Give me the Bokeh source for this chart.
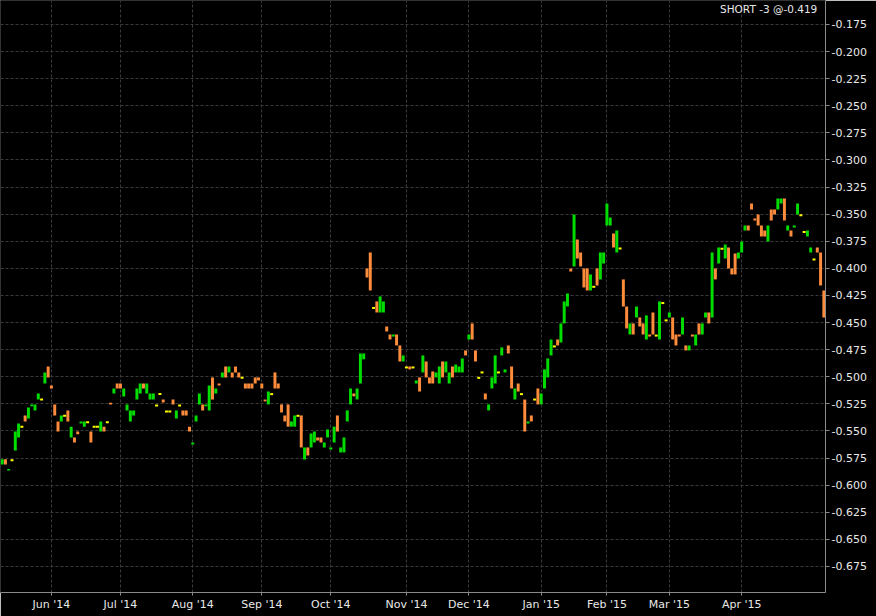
from bokeh.plotting import figure
from bokeh.models import ColumnDataSource, Range1d, FixedTicker, Label
from bokeh.embed import file_html
from bokeh.resources import INLINE

# ---- data (one bar per trading day) ----
opens = [
    -0.581, -0.576, -0.5865, -0.577, -0.568, -0.556, -0.546, -0.5357, -0.5385, -0.5273,
    -0.531, -0.5209, -0.521, -0.5062, -0.4905, -0.508, -0.5255, -0.5412, -0.5412, -0.536,
    -0.531, -0.556, -0.556, -0.5505, -0.543, -0.546, -0.542, -0.5505, -0.546, -0.546,
    -0.5505, -0.546, -0.542, -0.524, -0.5154, -0.5062, -0.5062, -0.5182, -0.531, -0.5412,
    -0.5357, -0.5209, -0.5154, -0.5062, -0.5154, -0.5209, -0.5209, -0.5264, -0.516, -0.521,
    -0.532, -0.532, -0.521, -0.5385, -0.5264, -0.531, -0.531, -0.546, -0.5625, -0.5412,
    -0.5255, -0.5255, -0.5273, -0.531, -0.5006, -0.5154, -0.5062, -0.5006, -0.4905, -0.496,
    -0.496, -0.4905, -0.496, -0.501, -0.5062, -0.5062, -0.5062, -0.5006, -0.5006, -0.5062,
    -0.521, -0.5255, -0.516, -0.496, -0.5062, -0.5255, -0.5357, -0.5255, -0.546, -0.546,
    -0.536, -0.5357, -0.5763, -0.5652, -0.5652, -0.5606, -0.556, -0.556, -0.5652, -0.556,
    -0.5671, -0.5606, -0.5357, -0.5698, -0.5698, -0.5412, -0.5255, -0.5154, -0.5209, -0.5062,
    -0.4839, -0.4001, -0.3853, -0.4365, -0.4305, -0.4407, -0.4407, -0.4536, -0.461, -0.4629,
    -0.461, -0.4711, -0.4859, -0.4914, -0.4905, -0.4914, -0.5062, -0.5006, -0.496, -0.4859,
    -0.5006, -0.4951, -0.5006, -0.5062, -0.4859, -0.496, -0.5062, -0.4905, -0.496, -0.496,
    -0.496, -0.4757, -0.4656, -0.4508, -0.4757, -0.501, -0.496, -0.5154, -0.531, -0.5108,
    -0.5062, -0.496, -0.4803, -0.496, -0.4711, -0.4905, -0.5209, -0.5062, -0.516, -0.521,
    -0.5431, -0.5357, -0.521, -0.5108, -0.5255, -0.5108, -0.5006, -0.4803, -0.472, -0.4656,
    -0.4684, -0.4508, -0.4351, -0.4001, -0.3982, -0.3733, -0.3853, -0.4001, -0.4001, -0.4204,
    -0.417, -0.4001, -0.4102, -0.3955, -0.3604, -0.3604, -0.3678, -0.3853, -0.3816, -0.4102,
    -0.4352, -0.461, -0.4508, -0.4453, -0.4453, -0.4508, -0.4656, -0.461, -0.4407, -0.462,
    -0.4656, -0.432, -0.448, -0.4453, -0.4453, -0.461, -0.461, -0.461, -0.4711, -0.4757,
    -0.461, -0.4711, -0.4508, -0.461, -0.4453, -0.4407, -0.4453, -0.4001, -0.3955, -0.382,
    -0.3909, -0.3807, -0.4001, -0.3863, -0.3909, -0.3853, -0.365, -0.3604, -0.3401, -0.354,
    -0.3503, -0.3604, -0.365, -0.3752, -0.3457, -0.3457, -0.3457, -0.3401, -0.3355, -0.365,
    -0.365, -0.3623, -0.3503, -0.351, -0.3664, -0.3706, -0.3853, -0.3918, -0.3807, -0.3853,
    -0.4204,
]
closes = [
    -0.576, -0.581, -0.585, -0.577, -0.5505, -0.543, -0.546, -0.5412, -0.5283, -0.5255,
    -0.5255, -0.5154, -0.521, -0.496, -0.5006, -0.5108, -0.5357, -0.5505, -0.5357, -0.536,
    -0.5412, -0.546, -0.5606, -0.553, -0.5412, -0.5412, -0.542, -0.5606, -0.546, -0.546,
    -0.5412, -0.5505, -0.542, -0.5255, -0.5108, -0.5108, -0.5108, -0.5108, -0.5255, -0.531,
    -0.531, -0.5108, -0.5062, -0.5108, -0.5062, -0.5154, -0.5154, -0.5264, -0.516, -0.5237,
    -0.532, -0.532, -0.5255, -0.531, -0.5264, -0.5357, -0.5357, -0.5505, -0.5606, -0.5357,
    -0.5154, -0.531, -0.5255, -0.508, -0.5209, -0.5108, -0.508, -0.496, -0.5006, -0.4905,
    -0.5006, -0.496, -0.5006, -0.501, -0.5108, -0.5108, -0.5108, -0.5062, -0.5034, -0.5108,
    -0.5227, -0.5136, -0.516, -0.5108, -0.5108, -0.5329, -0.5412, -0.546, -0.5412, -0.5357,
    -0.536, -0.5652, -0.5652, -0.5726, -0.5523, -0.5505, -0.5588, -0.5606, -0.5606, -0.5486,
    -0.5652, -0.546, -0.5505, -0.5652, -0.556, -0.531, -0.5108, -0.518, -0.5108, -0.4785,
    -0.4785, -0.4084, -0.4204, -0.4365, -0.4407, -0.4259, -0.4305, -0.4582, -0.4656, -0.461,
    -0.4711, -0.4859, -0.4803, -0.4914, -0.4932, -0.4914, -0.5034, -0.5136, -0.4803, -0.5006,
    -0.5062, -0.5062, -0.496, -0.4905, -0.5006, -0.4859, -0.496, -0.5006, -0.4887, -0.4905,
    -0.4831, -0.4803, -0.461, -0.4656, -0.4859, -0.501, -0.496, -0.5209, -0.5255, -0.5006,
    -0.4803, -0.496, -0.4729, -0.4932, -0.4785, -0.5108, -0.5108, -0.5136, -0.516, -0.5505,
    -0.5412, -0.5412, -0.521, -0.5255, -0.5154, -0.4932, -0.4831, -0.4656, -0.472, -0.4711,
    -0.4508, -0.4305, -0.4232, -0.4029, -0.3503, -0.3909, -0.3982, -0.4176, -0.4204, -0.4056,
    -0.417, -0.4158, -0.3853, -0.3853, -0.3401, -0.353, -0.3807, -0.365, -0.3816, -0.4352,
    -0.4554, -0.4508, -0.461, -0.4352, -0.4536, -0.461, -0.4434, -0.4629, -0.461, -0.462,
    -0.4305, -0.432, -0.448, -0.4407, -0.4656, -0.4711, -0.4629, -0.4453, -0.4757, -0.4711,
    -0.4629, -0.461, -0.461, -0.4508, -0.4407, -0.4508, -0.3853, -0.4102, -0.3807, -0.382,
    -0.3779, -0.4001, -0.4056, -0.4056, -0.3853, -0.3752, -0.3604, -0.365, -0.3457, -0.3558,
    -0.3604, -0.3706, -0.3706, -0.3604, -0.3558, -0.3503, -0.3355, -0.3355, -0.3558, -0.3604,
    -0.3706, -0.3604, -0.3401, -0.351, -0.3664, -0.365, -0.3807, -0.3918, -0.3853, -0.4158,
    -0.4453,
]
month_ticks = [15, 36, 58, 79, 100, 123, 142, 164, 184, 203, 225]
month_labels = ["Jun '14", "Jul '14", "Aug '14", "Sep '14", "Oct '14", "Nov '14",
                "Dec '14", "Jan '15", "Feb '15", "Mar '15", "Apr '15"]
y_ticks = [-0.675, -0.65, -0.625, -0.6, -0.575, -0.55, -0.525, -0.5, -0.475, -0.45,
           -0.425, -0.4, -0.375, -0.35, -0.325, -0.3, -0.275, -0.25, -0.225, -0.2, -0.175]
y_labels = ["%.3f" % t for t in y_ticks]
title_text = "SHORT -3 @-0.419"

# ---- split bars by direction ----
def subset(cond):
    xs, tops, bots = [], [], []
    for i, (o, c) in enumerate(zip(opens, closes)):
        if cond(o, c):
            xs.append(i)
            tops.append(max(o, c))
            bots.append(min(o, c))
    return ColumnDataSource(dict(x=xs, top=tops, bottom=bots))

up_src = subset(lambda o, c: c > o)
down_src = subset(lambda o, c: c < o)
flat_src = subset(lambda o, c: c == o)

FONT = "DejaVu Sans"
TXT = "#e8e8e8"

p = figure(width=876, height=616, output_backend="svg", toolbar_location=None,
           x_range=Range1d(-0.5, len(opens) - 0.5), y_range=Range1d(-0.699, -0.1529),
           y_axis_location="right", min_border_left=0, min_border_top=0,
           min_border_right=51, min_border_bottom=24)
p.background_fill_color = "black"
p.border_fill_color = "black"
p.outline_line_color = "#333333"

p.vbar(x="x", top="top", bottom="bottom", width=0.9, source=up_src,
       fill_color="#00dd00", line_color=None)
p.vbar(x="x", top="top", bottom="bottom", width=0.9, source=down_src,
       fill_color="#ff8c3c", line_color=None)
p.rect(x="x", y="top", width=0.9, height=2, height_units="screen", source=flat_src,
       fill_color="#ffff00", line_color=None)

# axes
xa = p.xaxis[0]
xa.ticker = FixedTicker(ticks=month_ticks)
xa.major_label_overrides = {t: l for t, l in zip(month_ticks, month_labels)}
xa.minor_tick_line_color = None
xa.major_tick_in = 0
xa.major_tick_out = 3
xa.major_label_standoff = 2
ya = p.yaxis[0]
ya.ticker = FixedTicker(ticks=y_ticks)
ya.major_label_overrides = {t: l for t, l in zip(y_ticks, y_labels)}
ya.minor_tick_line_color = None
ya.major_tick_in = 0
ya.major_tick_out = 4
ya.major_label_standoff = 2
for ax in (xa, ya):
    ax.axis_line_color = "#8a8a8a"
    ax.major_tick_line_color = "#8a8a8a"
    ax.major_label_text_color = TXT
    ax.major_label_text_font = FONT
    ax.major_label_text_font_size = "11px"

for g in (p.xgrid[0], p.ygrid[0]):
    g.grid_line_color = "#3a3a3a"
    g.grid_line_dash = "3 2"
p.xgrid[0].ticker = FixedTicker(ticks=month_ticks)
p.ygrid[0].ticker = FixedTicker(ticks=y_ticks)

p.add_layout(Label(x=248, y=-0.1603, text=title_text, text_align="right",
                   text_baseline="middle", text_color=TXT, text_font=FONT,
                   text_font_size="10.5px"))

open("out.html", "w").write(file_html(p, INLINE))
